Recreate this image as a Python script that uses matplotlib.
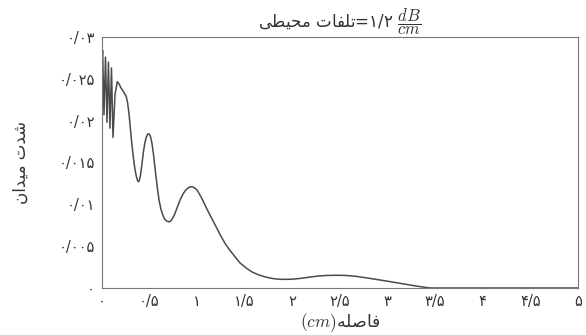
import matplotlib
matplotlib.use("Agg")
import matplotlib.pyplot as plt

plt.rcParams['font.family'] = ['DejaVu Sans']
plt.rcParams['mathtext.fontset'] = 'cm'

# field strength along the guide (distance in cm)
distance = [0.0, 0.007, 0.021, 0.037, 0.053, 0.068, 0.084, 0.100, 0.116,
            0.137, 0.161, 0.18, 0.20, 0.23, 0.255, 0.27, 0.285, 0.30, 0.315,
            0.33, 0.345, 0.36, 0.372, 0.381, 0.392, 0.405, 0.42, 0.435, 0.45,
            0.465, 0.48, 0.497, 0.51, 0.525, 0.54, 0.555, 0.57, 0.585, 0.60,
            0.62, 0.64, 0.66, 0.68, 0.707, 0.73, 0.76, 0.79, 0.82, 0.85, 0.88,
            0.91, 0.935, 0.953, 0.98, 1.00, 1.05, 1.10, 1.15, 1.20, 1.25,
            1.30, 1.345, 1.40, 1.45, 1.52, 1.58, 1.65, 1.73, 1.80, 1.87, 1.95,
            2.03, 2.12, 2.20, 2.29, 2.37, 2.45, 2.53, 2.60, 2.68, 2.75, 2.83,
            2.92, 3.00, 3.08, 3.16, 3.235, 3.30, 3.37, 3.42, 3.45, 5.0]
intensity = [0.0272, 0.0284, 0.0207, 0.0276, 0.0198, 0.0270, 0.0191, 0.0263,
             0.0180, 0.0231, 0.02465, 0.0244, 0.0239, 0.0234, 0.0229, 0.0221,
             0.0207, 0.0189, 0.0171, 0.0156, 0.0143, 0.0134, 0.0129, 0.0127,
             0.0128, 0.0135, 0.0148, 0.0162, 0.0173, 0.0180, 0.0184, 0.0184,
             0.0181, 0.0173, 0.0161, 0.0146, 0.0131, 0.0117, 0.0105, 0.0094,
             0.0087, 0.0082, 0.0080, 0.0079, 0.0081, 0.0087, 0.0096, 0.0105,
             0.0112, 0.0117, 0.0120, 0.0121, 0.0121, 0.0119, 0.0117, 0.0107,
             0.0095, 0.0084, 0.0073, 0.0062, 0.0052, 0.0045, 0.0037, 0.0030,
             0.00235, 0.0019, 0.00155, 0.00128, 0.00112, 0.00104, 0.00103,
             0.00108, 0.00120, 0.00133, 0.00145, 0.00150, 0.00152, 0.00151,
             0.00147, 0.00138, 0.00126, 0.00112, 0.00096, 0.00081, 0.00066,
             0.00051, 0.00036, 0.00024, 0.00012, 0.00004, 0.0, 0.0]

x_ticks = [0, 0.5, 1, 1.5, 2, 2.5, 3, 3.5, 4, 4.5, 5]
x_tick_labels = ['\u06f0', '\u06f0/\u06f5', '\u06f1', '\u06f1/\u06f5', '\u06f2',
                 '\u06f2/\u06f5', '\u06f3', '\u06f3/\u06f5', '\u06f4',
                 '\u06f4/\u06f5', '\u06f5']
y_ticks = [0, 0.005, 0.01, 0.015, 0.02, 0.025, 0.03]
y_tick_labels = ['\u06f0', '\u06f0/\u06f0\u06f0\u06f5', '\u06f0/\u06f0\u06f1',
                 '\u06f0/\u06f0\u06f1\u06f5', '\u06f0/\u06f0\u06f2',
                 '\u06f0/\u06f0\u06f2\u06f5', '\u06f0/\u06f0\u06f3']

# Persian strings written in shaped presentation forms, visual order
title_txt = ('\ufef0\ufec4\ufef4\ufea4\ufee3 \ufe95\ufe8e\ufed4\ufee0\ufe97='
             '\u06f1/\u06f2 $\\dfrac{dB}{cm}$')
xlabel_txt = '$(cm)$\ufeea\ufee0\ufebb\ufe8e\ufed3'
ylabel_txt = '\ufee5\ufe8d\ufeaa\ufef4\ufee3 \ufe95\ufeaa\ufeb7'

text_color = '#333333'

fig = plt.figure(figsize=(5.86, 3.35), dpi=100)
ax = fig.add_axes([0.174, 0.1403, 0.812, 0.7493])

ax.plot(distance, intensity, color='#4a4a4a', linewidth=1.1)

ax.set_xlim(0, 5)
ax.set_ylim(0, 0.03)
ax.set_xticks(x_ticks)
ax.set_xticklabels(x_tick_labels)
ax.set_yticks(y_ticks)
ax.set_yticklabels(y_tick_labels)
ax.tick_params(length=0, labelsize=10.5, labelcolor=text_color)
ax.tick_params(axis='x', pad=4)
ax.tick_params(axis='y', pad=5)

for sp in ax.spines.values():
    sp.set_color('#777777')
    sp.set_linewidth(0.8)

ax.set_title(title_txt, fontsize=12, color=text_color, pad=4)
ax.set_xlabel(xlabel_txt, fontsize=12.5, color=text_color, labelpad=2)
ax.set_ylabel(ylabel_txt, fontsize=12, color=text_color)
ax.yaxis.set_label_coords(-0.151, 0.5)

fig.savefig('out.png', dpi=100)
